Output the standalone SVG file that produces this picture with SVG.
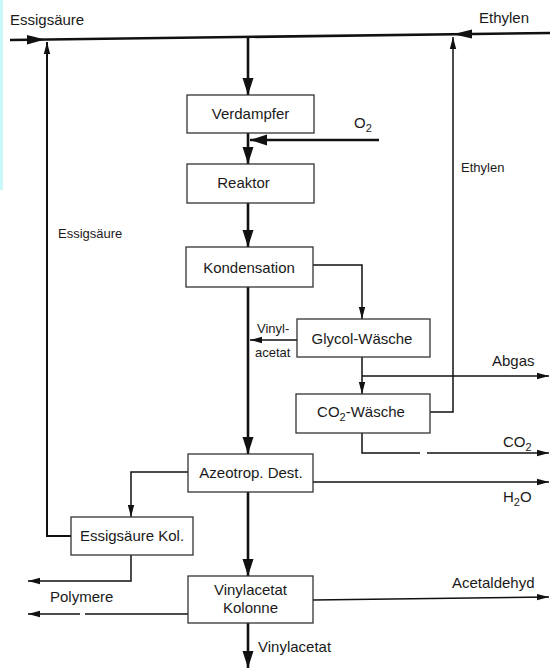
<svg xmlns="http://www.w3.org/2000/svg" width="550" height="668" viewBox="0 0 550 668">
<style>
.box{fill:#fff;stroke:#333;stroke-width:1.3}
.lbl{font-family:"Liberation Sans",Arial,sans-serif;font-size:15px;fill:#1a1a1a}
.sm{font-family:"Liberation Sans",Arial,sans-serif;font-size:13px;fill:#1a1a1a}
.thick{fill:none;stroke:#111;stroke-width:2.6}
.mid{fill:none;stroke:#111;stroke-width:2}
.thin{fill:none;stroke:#111;stroke-width:1.5}
.ah{fill:#111}
</style>
<defs>
<marker id="big" markerUnits="userSpaceOnUse" markerWidth="18" markerHeight="12" refX="17" refY="6" orient="auto">
<path d="M0,0.5 L17,6 L0,11.5 Z" fill="#111"/>
</marker>
<marker id="small" markerUnits="userSpaceOnUse" markerWidth="13" markerHeight="8" refX="12" refY="4" orient="auto">
<path d="M0,0.8 L12,4 L0,7.2 Z" fill="#111"/>
</marker>
</defs>
<rect x="0" y="0" width="3" height="190" fill="#c8f8f8"/>
<g id="connectors">
<path class="thick" d="M10,40 L550,33"/>
<polygon class="ah" points="27,35 45,39.5 27,44.5"/>
<polygon class="ah" points="472,29.5 453,34.3 472,38.5"/>
<path class="thick" d="M248,37 L248,95" marker-end="url(#big)"/>
<path class="thick" d="M248,133 L248,164" marker-end="url(#big)"/>
<path class="thick" d="M379,140 L250,140" marker-end="url(#big)"/>
<path class="thick" d="M248,203 L248,247" marker-end="url(#big)"/>
<path class="thin" d="M313,265 L362,265 L362,319" marker-end="url(#small)"/>
<path class="thin" d="M297,340 L250,340" marker-end="url(#small)"/>
<path class="thick" d="M248,287 L248,454" marker-end="url(#big)"/>
<path class="thin" d="M362,357 L362,394" marker-end="url(#small)"/>
<path class="thin" d="M362,376 L549,376" marker-end="url(#small)"/>
<path class="thin" d="M430,412 L453,412 L453,37" marker-end="url(#small)"/>
<path class="thin" d="M362,433 L362,453 L420,453"/>
<path class="thin" d="M427,453 L549,453" marker-end="url(#small)"/>
<path class="thin" d="M313,482 L549,482" marker-end="url(#small)"/>
<path class="thin" d="M188,472 L131,472 L131,517" marker-end="url(#small)"/>
<path class="mid" d="M71,536 L47,536 L47,42" marker-end="url(#small)"/>
<path class="thin" d="M131,555 L131,581 L28,581" marker-end="url(#small)"/>
<path class="thick" d="M248,492 L248,576" marker-end="url(#big)"/>
<path class="thin" d="M188,614 L85,614"/>
<path class="thin" d="M80,614 L28,614" marker-end="url(#small)"/>
<path class="thin" d="M313,600 L549,597" marker-end="url(#small)"/>
<path class="thick" d="M248,623 L248,668" marker-end="url(#big)"/>
</g>
<g id="labels">
<text class="lbl" x="10" y="25">Essigsäure</text>
<text class="lbl" x="479" y="23">Ethylen</text>
<text class="lbl" x="354" y="128">O<tspan font-size="11" dy="4">2</tspan></text>
<text class="sm" x="461" y="172">Ethylen</text>
<text class="sm" x="58" y="238">Essigsäure</text>
<text class="sm" x="257" y="333">Vinyl-</text>
<text class="sm" x="255" y="357">acetat</text>
<text class="lbl" x="492" y="366">Abgas</text>
<text class="lbl" x="503" y="447">CO<tspan font-size="11" dy="4">2</tspan></text>
<text class="lbl" x="503" y="502">H<tspan font-size="11" dy="4">2</tspan><tspan dy="-4">O</tspan></text>
<text class="lbl" x="50" y="602">Polymere</text>
<text class="lbl" x="452" y="588">Acetaldehyd</text>
<text class="lbl" x="258" y="652">Vinylacetat</text>
</g>
<g id="verdampfer">
<rect class="box" x="187" y="95" width="127" height="38"/>
<text class="lbl" x="250.5" y="119" text-anchor="middle">Verdampfer</text>
</g>
<g id="reaktor">
<rect class="box" x="187" y="164" width="127" height="39"/>
<text class="lbl" x="243.5" y="188" text-anchor="middle">Reaktor</text>
</g>
<g id="kondensation">
<rect class="box" x="186" y="247" width="127" height="40"/>
<text class="lbl" x="249" y="273" text-anchor="middle">Kondensation</text>
</g>
<g id="glycol">
<rect class="box" x="297" y="319" width="133" height="38"/>
<text class="lbl" x="362" y="344" text-anchor="middle">Glycol-Wäsche</text>
</g>
<g id="co2wasche">
<rect class="box" x="296" y="394" width="134" height="39"/>
<text class="lbl" x="361" y="417" text-anchor="middle">CO<tspan font-size="11" dy="4">2</tspan><tspan dy="-4">-Wäsche</tspan></text>
</g>
<g id="azeotrop">
<rect class="box" x="188" y="454" width="125" height="38"/>
<text class="lbl" x="251" y="478" text-anchor="middle">Azeotrop. Dest.</text>
</g>
<g id="essigkol">
<rect class="box" x="71" y="517" width="122" height="38"/>
<text class="lbl" x="132" y="541" text-anchor="middle">Essigsäure Kol.</text>
</g>
<g id="vakolonne">
<rect class="box" x="188" y="576" width="125" height="47"/>
<text class="lbl" x="250.5" y="595" text-anchor="middle">Vinylacetat</text>
<text class="lbl" x="250.5" y="613" text-anchor="middle">Kolonne</text>
</g>
</svg>
